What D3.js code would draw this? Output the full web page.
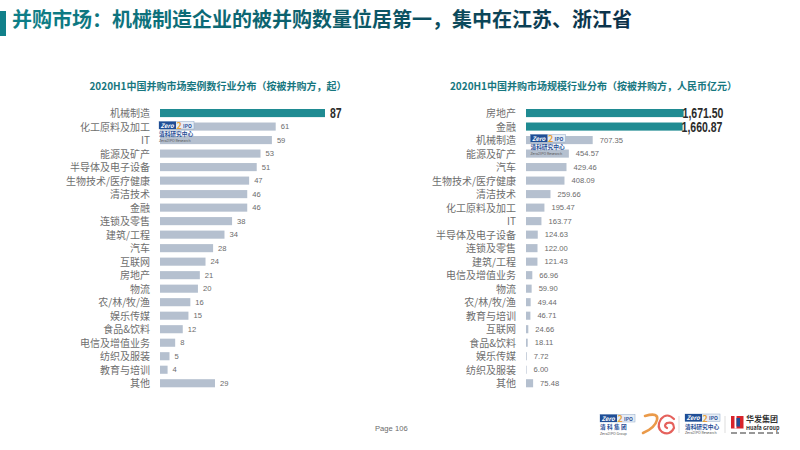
<!DOCTYPE html>
<html>
<head>
<meta charset="utf-8">
<script src="https://cdn.jsdelivr.net/npm/d3@7"></script>
<style>
  html, body { margin: 0; padding: 0; background: #fff; }
  text { font-family: "Noto Sans CJK SC", "Liberation Sans", sans-serif; }
  .val { font-family: "Liberation Sans", Arial, sans-serif; font-size: 7.6px; fill: #6b6b6b; }
  .big { font-family: "Liberation Sans", Arial, sans-serif; font-size: 14px; font-weight: 700; fill: #2b2b2b; }
  .cat { font-size: 10px; fill: #6e6e6e; }
</style>
</head>
<body>
<svg id="chart" width="800" height="450"></svg>
<script>
// left chart: number of deals
var dealCategories = ["机械制造","化工原料及加工","IT","能源及矿产","半导体及电子设备","生物技术/医疗健康","清洁技术","金融","连锁及零售","建筑/工程","汽车","互联网","房地产","物流","农/林/牧/渔","娱乐传媒","食品&饮料","电信及增值业务","纺织及服装","教育与培训","其他"];
var dealValues = [87,61,59,53,51,47,46,46,38,34,28,24,21,20,16,15,12,8,5,4,29];
var dealHighlight = ["机械制造"];

// right chart: deal size
var sizeCategories = ["房地产","金融","机械制造","能源及矿产","汽车","生物技术/医疗健康","清洁技术","化工原料及加工","IT","半导体及电子设备","连锁及零售","建筑/工程","电信及增值业务","物流","农/林/牧/渔","教育与培训","互联网","食品&饮料","娱乐传媒","纺织及服装","其他"];
var sizeValues = [1671.50,1660.87,707.35,454.57,429.46,408.09,259.66,195.47,163.77,124.63,122.00,121.43,66.96,59.90,49.44,46.71,24.66,18.11,7.72,6.00,75.48];
var sizeHighlight = ["房地产","金融"];

var mainTitle = "并购市场：机械制造企业的被并购数量位居第一，集中在江苏、浙江省";
var leftTitle = "2020H1中国并购市场案例数行业分布（按被并购方，起）";
var rightTitle = "2020H1中国并购市场规模行业分布（按被并购方，人民币亿元）";

var TEAL = "#1f8b92", BAR = "#b5c0cf";

var svg = d3.select("#chart");

// title fades from teal to dark navy
var grad = svg.append("defs").append("linearGradient")
    .attr("id", "titleFill").attr("gradientUnits", "userSpaceOnUse")
    .attr("x1", 12).attr("x2", 632).attr("y1", 0).attr("y2", 0);
grad.append("stop").attr("offset", 0).attr("stop-color", "#0e7f88");
grad.append("stop").attr("offset", 0.55).attr("stop-color", "#0c5a68");
grad.append("stop").attr("offset", 1).attr("stop-color", "#0b2f48");

svg.append("rect").attr("x", 0).attr("y", 11).attr("width", 6).attr("height", 25).attr("fill", "#11808a");
svg.append("text").attr("x", 12).attr("y", 27)
    .attr("font-size", 20).attr("font-weight", 700).attr("fill", "url(#titleFill)")
    .text(mainTitle);

function barChart(opts) {
    var x = d3.scaleLinear().domain([0, opts.max]).range([opts.x0, opts.x1]);
    var y = d3.scaleBand().domain(opts.categories).range([106.3, 390]).paddingInner(0.4).paddingOuter(0.2);

    svg.append("text").attr("x", opts.titleX).attr("y", 90).attr("text-anchor", "middle")
        .attr("font-size", opts.titleSize).attr("font-weight", 700).attr("fill", "#17777f")
        .text(opts.title);

    var rows = svg.append("g").selectAll("g").data(opts.categories).enter().append("g");

    rows.append("rect")
        .attr("x", opts.x0)
        .attr("y", function(d) { return y(d); })
        .attr("width", function(d, i) { return x(opts.values[i]) - opts.x0; })
        .attr("height", y.bandwidth())
        .attr("fill", function(d) { return opts.highlight.indexOf(d) >= 0 ? TEAL : BAR; });

    rows.append("text")
        .attr("class", "cat")
        .attr("x", opts.x0 - 10)
        .attr("y", function(d) { return y(d) + y.bandwidth() / 2 + 4; })
        .attr("text-anchor", "end")
        .text(function(d) { return d; });

    // small grey labels for most rows
    rows.filter(function(d) { return opts.highlight.indexOf(d) < 0; }).append("text")
        .attr("class", "val")
        .attr("x", function(d) { return x(opts.values[opts.categories.indexOf(d)]) + opts.gap; })
        .attr("y", function(d) { return y(d) + y.bandwidth() / 2 + 2.5; })
        .text(function(d) { return opts.format(opts.values[opts.categories.indexOf(d)]); });

    // condensed heavy labels for highlighted rows
    rows.filter(function(d) { return opts.highlight.indexOf(d) >= 0; }).append("text")
        .attr("class", "big")
        .attr("transform", function(d) {
            var px = x(opts.values[opts.categories.indexOf(d)]) + opts.bigGap;
            return "translate(" + px + "," + (y(d) + y.bandwidth() / 2 + 5) + ") scale(0.75,1)";
        })
        .text(function(d) { return opts.format(opts.values[opts.categories.indexOf(d)]); });
}

barChart({
    categories: dealCategories, values: dealValues, highlight: dealHighlight,
    max: 87, x0: 160, x1: 325, gap: 5, bigGap: 5,
    title: leftTitle, titleX: 218, titleSize: 10,
    format: d3.format("d")
});

barChart({
    categories: sizeCategories, values: sizeValues, highlight: sizeHighlight,
    max: 1671.5, x0: 526, x1: 683.6, gap: 7, bigGap: -1,
    title: rightTitle, titleX: 593.5, titleSize: 10,
    format: d3.format(",.2f")
});

// page number
svg.append("text").attr("x", 375).attr("y", 431).attr("class", "val").text("Page");
svg.append("text").attr("x", 395).attr("y", 431).attr("class", "val").text("106");

// ZERO2IPO logo, used as a watermark and in the footer
function zeroLogo(g, sub, en) {
    g.append("rect").attr("width", 35).attr("height", 7.5).attr("fill", "#e6edf5").attr("stroke", "#8fa8c8").attr("stroke-width", 0.5);
    g.append("rect").attr("width", 17).attr("height", 7.5).attr("fill", "#1f4e96");
    g.append("text").attr("x", 1.5).attr("y", 6).attr("font-size", 6).attr("font-weight", 700).attr("font-style", "italic").attr("fill", "#fff").text("Zero");
    g.append("text").attr("x", 17.5).attr("y", 7.5).attr("font-size", 9).attr("font-weight", 700).attr("fill", "#e8a23c").text("2");
    g.append("text").attr("x", 24).attr("y", 6).attr("font-size", 5).attr("font-weight", 700).attr("fill", "#1f4e96").text("IPO");
    g.append("text").attr("x", 0).attr("y", 14.5).attr("font-size", 5.7).attr("font-weight", 700).attr("fill", "#1f4e96").text(sub);
    g.append("text").attr("x", 0).attr("y", 20).attr("font-size", 3.6).attr("fill", "#555").text(en);
}
zeroLogo(svg.append("g").attr("transform", "translate(159,121.5)"), "清科研究中心", "Zero2IPO Research");
zeroLogo(svg.append("g").attr("transform", "translate(530.5,134.5)"), "清科研究中心", "Zero2IPO Research");
zeroLogo(svg.append("g").attr("transform", "translate(600,414.5)"), "清 科 集 团", "Zero2IPO Group");
zeroLogo(svg.append("g").attr("transform", "translate(685,414)"), "清科研究中心", "Zero2IPO Research");

// 30th anniversary mark
var mark = svg.append("g").attr("fill", "none").attr("stroke-linecap", "round");
mark.append("path").attr("d", "M645 416 Q659 412 657 420 Q655 428 643 433").attr("stroke", "#ea9a4a").attr("stroke-width", 2.6);
mark.append("path").attr("d", "M674 419 Q667 412 661 419 Q656 427 662 432 Q670 436 674 428 Q674 421 667 423 Q663 426 667 428").attr("stroke", "#e5615c").attr("stroke-width", 2.2);

// separators
svg.append("line").attr("x1", 679).attr("x2", 679).attr("y1", 416).attr("y2", 433).attr("stroke", "#ddd");
svg.append("line").attr("x1", 725).attr("x2", 725).attr("y1", 416).attr("y2", 433).attr("stroke", "#ddd");

// Huafa logo
var hf = svg.append("g").attr("transform", "translate(731,416)");
hf.append("rect").attr("width", 12.5).attr("height", 12.5).attr("fill", "#d8232a");
hf.append("rect").attr("x", 3.5).attr("width", 2).attr("height", 12.5).attr("fill", "#fff");
hf.append("rect").attr("x", 5.5).attr("y", 2).attr("width", 3.5).attr("height", 8.5).attr("fill", "#1f4e96");
hf.append("text").attr("x", 15).attr("y", 6).attr("font-size", 8).attr("font-weight", 700).attr("fill", "#333").text("华发集团");
hf.append("text").attr("x", 15).attr("y", 13.5).attr("font-size", 5.4).attr("font-weight", 700).attr("fill", "#333").text("Huafa Group");
hf.append("line").attr("x1", 0).attr("x2", 48).attr("y1", 17).attr("y2", 17)
    .attr("stroke", "#777").attr("stroke-width", 1.4).attr("stroke-dasharray", "6 3");
</script>
</body>
</html>
